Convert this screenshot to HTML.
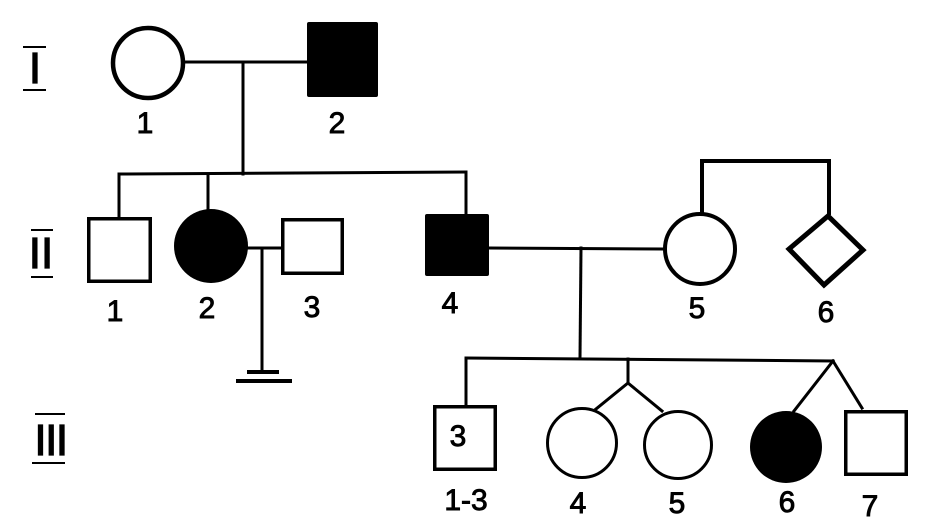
<!DOCTYPE html>
<html><head><meta charset="utf-8"><style>
html,body{margin:0;padding:0;background:#fff;}
svg{display:block;}
text{font-family:"Liberation Sans",sans-serif;fill:#000;}
.lab{font-size:30px;text-anchor:middle;stroke:#000;stroke-width:0.9px;}
.rom{font-size:44px;text-anchor:middle;stroke:#000;stroke-width:1.2px;}
</style></head><body>
<svg width="926" height="532" viewBox="0 0 926 532" xmlns="http://www.w3.org/2000/svg">
<rect width="926" height="532" fill="#fff"/>
<g stroke="#000" fill="none" stroke-linecap="square">
<!-- Roman numeral bars -->
<g stroke-width="2">
<line x1="24" y1="47" x2="45" y2="47"/><line x1="24" y1="90" x2="45" y2="90"/>
<line x1="32" y1="230" x2="52" y2="230"/><line x1="32" y1="277" x2="52" y2="277"/>
<line x1="36" y1="414" x2="64" y2="414"/><line x1="33" y1="463" x2="64" y2="463"/>
</g>
<!-- Gen I -->
<g stroke-width="3">
<line x1="185" y1="62" x2="307" y2="62"/>
<line x1="243" y1="62" x2="243" y2="174"/>
<line x1="119" y1="174" x2="466" y2="172"/>
<line x1="119" y1="174" x2="119" y2="217"/>
<line x1="208" y1="174" x2="208" y2="210"/>
<line x1="466" y1="172" x2="466" y2="214"/>
<!-- II-2 x II-3 -->
<line x1="248" y1="248" x2="281" y2="248"/>
<line x1="262" y1="248" x2="262" y2="372"/>
<!-- II-4 x II-5 -->
<line x1="489" y1="248" x2="663" y2="249"/>
<line x1="581" y1="248" x2="580" y2="358"/>
<!-- Gen III sibship -->
<line x1="466" y1="358" x2="833" y2="361"/>
<line x1="466" y1="358" x2="466" y2="405"/>
<line x1="628" y1="359" x2="628" y2="383"/>
<line x1="628" y1="383" x2="596" y2="409"/>
<line x1="628" y1="383" x2="662" y2="411"/>
<line x1="833" y1="361" x2="794" y2="411"/>
<line x1="833" y1="361" x2="862" y2="408"/>
</g>
<g stroke-width="4">
<line x1="249" y1="372" x2="277" y2="372"/>
<line x1="238" y1="381" x2="290" y2="381"/>
<polyline points="702,213 702,161 829,161 829,213"/>
</g>
<!-- shapes -->
<circle cx="148" cy="63" r="35" stroke-width="4.5"/>
<rect x="307" y="22" width="71" height="75" rx="2" fill="#000" stroke="none"/>
<rect x="88.75" y="218.75" width="61.5" height="62.5" stroke-width="3.5"/>
<circle cx="211" cy="246" r="37" fill="#000" stroke="none"/>
<rect x="282.75" y="219.75" width="59.5" height="53.5" stroke-width="3.5"/>
<rect x="425" y="214" width="64" height="62" rx="2" fill="#000" stroke="none"/>
<circle cx="700" cy="249" r="35" stroke-width="4"/>
<polygon points="828,216 789,249 824,285 863,250" stroke-width="5" stroke-linejoin="miter"/>
<rect x="434.75" y="406.75" width="60.5" height="62.5" stroke-width="3.5"/>
<circle cx="582" cy="443" r="34.5" stroke-width="3"/>
<circle cx="678" cy="445" r="33.5" stroke-width="3"/>
<circle cx="786" cy="447" r="36" fill="#000" stroke="none"/>
<rect x="845.75" y="411.75" width="60.5" height="62.5" stroke-width="3.5"/>
</g>
<!-- Roman numerals -->
<text class="rom" x="35" y="83">I</text>
<text class="rom" x="41" y="268">II</text>
<text class="rom" x="50.5" y="455" letter-spacing="-1.5">III</text>
<!-- labels -->
<text class="lab" x="145" y="133">1</text>
<text class="lab" x="337" y="133">2</text>
<text class="lab" x="115" y="321">1</text>
<text class="lab" x="207" y="318">2</text>
<text class="lab" x="312" y="317">3</text>
<text class="lab" x="450" y="313">4</text>
<text class="lab" x="697" y="318">5</text>
<text class="lab" x="826" y="322">6</text>
<text class="lab" x="458" y="446">3</text>
<text class="lab" x="466" y="510">1-3</text>
<text class="lab" x="578" y="513">4</text>
<text class="lab" x="677" y="513">5</text>
<text class="lab" x="787" y="512">6</text>
<text class="lab" x="870" y="516">7</text>
</svg>
</body></html>
